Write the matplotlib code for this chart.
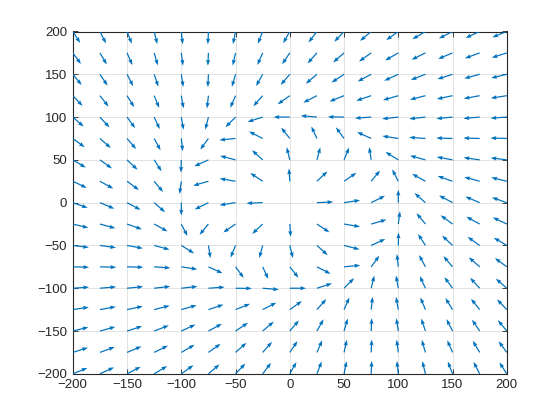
import matplotlib
matplotlib.use('Agg')
import matplotlib.pyplot as plt
import numpy as np

# grid of arrow tails
x_vals = [-200, -175, -150, -125, -100, -75, -50, -25, 0,
          25, 50, 75, 100, 125, 150, 175, 200]
y_vals = [200, 175, 150, 125, 100, 75, 50, 25, 0,
          -25, -50, -75, -100, -125, -150, -175, -200]

# arrow direction (degrees, counter-clockwise from +x), rows top -> bottom
nan = np.nan
angle_deg = [
    [297, 292, 287, 281, 275, 268, 261, 253, 246, 239, 233, 227, 222, 217, 213, 210, 207],
    [300, 295, 289, 283, 276, 268, 260, 251, 242, 235, 228, 222, 216, 212, 208, 205, 202],
    [303, 298, 292, 285, 277, 268, 257, 246, 236, 227, 220, 214, 210, 206, 202, 199, 197],
    [307, 302, 296, 288, 278, 265, 251, 235, 222, 213, 207, 203, 200, 198, 195, 193, 191],
    [312, 306, 300, 290, 278, 259, 232, 202, 180, 174, 179, 185, 188, 188, 187, 186, 185],
    [317, 312, 304, 293, 275, 240, 187, 147, 122, 110, 120, 150, 169, 175, 178, 178, 178],
    [323, 318, 310, 297, 269, 210, 162, 131, 101, 78, 72, 97, 142, 161, 167, 170, 171],
    [329, 325, 317, 303, 264, 200, 168, 140, 93, 50, 41, 57, 112, 145, 156, 161, 163],
    [336, 332, 326, 312, 270, 212, 191, 183, nan, 3, 11, 32, 90, 132, 146, 152, 156],
    [343, 341, 336, 325, 292, 237, 221, 230, 273, 320, 348, 20, 84, 123, 137, 145, 149],
    [351, 350, 347, 341, 322, 277, 252, 258, 281, 311, 342, 30, 89, 117, 130, 138, 143],
    [358, 358, 358, 355, 349, 330, 300, 290, 302, 327, 7, 60, 95, 113, 124, 132, 137],
    [5, 6, 7, 8, 8, 5, 359, 354, 0, 22, 52, 79, 98, 110, 120, 126, 132],
    [11, 13, 15, 18, 20, 23, 27, 33, 42, 55, 71, 85, 98, 108, 116, 122, 127],
    [17, 19, 22, 26, 30, 34, 40, 47, 56, 66, 77, 88, 97, 105, 112, 118, 123],
    [22, 25, 28, 32, 36, 42, 48, 55, 62, 71, 80, 88, 96, 103, 109, 115, 120],
    [27, 30, 33, 37, 42, 47, 53, 59, 66, 73, 81, 88, 95, 101, 107, 112, 117],
]
arrow_len = 15  # arrows are all about the same length (data units)

X, Y = np.meshgrid(x_vals, y_vals)
ang = np.deg2rad(np.array(angle_deg, dtype=float))
U = arrow_len * np.cos(ang)
V = arrow_len * np.sin(ang)

plt.rcParams['font.family'] = ['Liberation Sans', 'DejaVu Sans']

fig = plt.figure(figsize=(5.6, 4.2), dpi=100)
ax = fig.add_axes([0.13, 0.11, 0.775, 0.815])

ax.quiver(X, Y, U, V, angles='xy', scale_units='xy', scale=1,
          color='#0072BD', width=0.0028, headwidth=3.4, headlength=4.8,
          headaxislength=4.3, zorder=3)

ax.set_xlim(-200, 200)
ax.set_ylim(-200, 200)
ax.set_xticks(np.arange(-200, 201, 50))
ax.set_yticks(np.arange(-200, 201, 50))
ax.grid(True, color='#262626', alpha=0.15, lw=0.6)
ax.set_axisbelow(True)
for sp in ax.spines.values():
    sp.set_color('#262626')
    sp.set_linewidth(0.8)
ax.tick_params(direction='in', top=True, right=True, length=3.5, width=0.6,
               colors='#262626', labelsize=9.5, pad=4)

fig.savefig('out.png', dpi=100)
